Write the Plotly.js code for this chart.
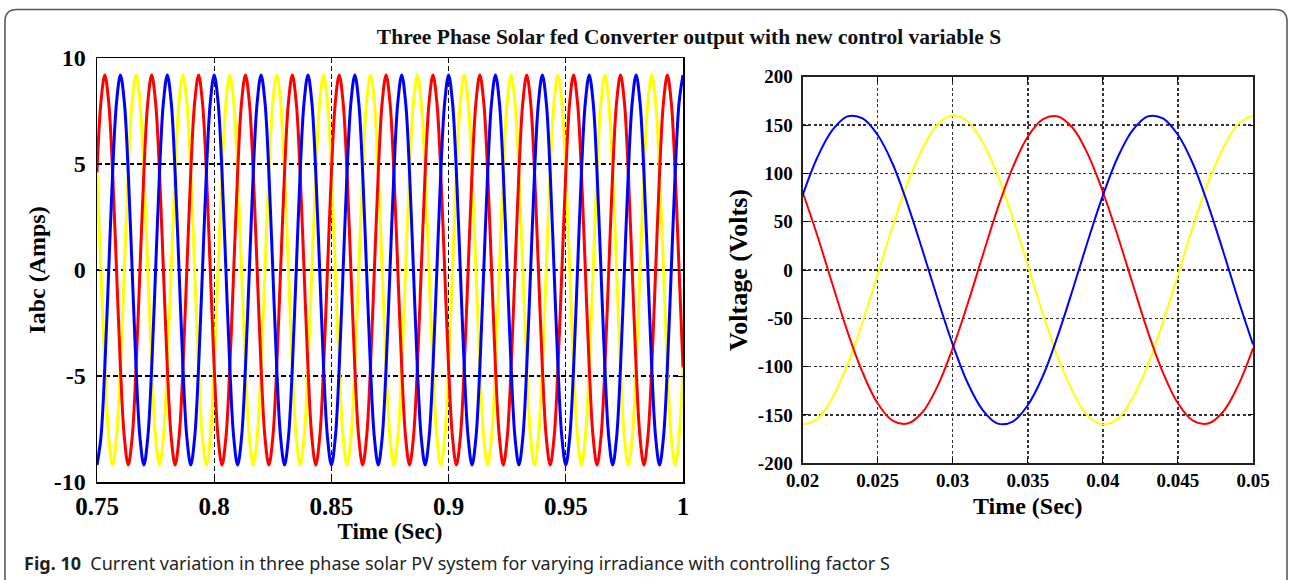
<!DOCTYPE html>
<html>
<head>
<meta charset="utf-8">
<script src="https://cdn.plot.ly/plotly-3.0.1.min.js"></script>
<style>
  html, body { margin: 0; padding: 0; background: #ffffff; }
  #chart { width: 1290px; height: 580px; }
</style>
</head>
<body>
<div id="chart"></div>
<script>
// ---------- Left panel: phase currents (A), sampled every 1/600 s from 0.75 s ----------
const IABC_T0 = 0.75;
const IABC_DT = 0.00166667;
const IA_RED = [
  4.6,7.9,9.2,7.9,4.6,0,-4.6,-7.9,-9.2,-7.9,-4.6,0,
  4.6,7.9,9.2,7.9,4.6,0,-4.6,-7.9,-9.2,-7.9,-4.6,0,
  4.6,7.9,9.2,7.9,4.6,0,-4.6,-7.9,-9.2,-7.9,-4.6,0,
  4.6,7.9,9.2,7.9,4.6,0,-4.6,-7.9,-9.2,-7.9,-4.6,0,
  4.6,7.9,9.2,7.9,4.6,0,-4.6,-7.9,-9.2,-7.9,-4.6,0,
  4.6,7.9,9.2,7.9,4.6,0,-4.6,-7.9,-9.2,-7.9,-4.6,0,
  4.6,7.9,9.2,7.9,4.6,0,-4.6,-7.9,-9.2,-7.9,-4.6,0,
  4.6,7.9,9.2,7.9,4.6,0,-4.6,-7.9,-9.2,-7.9,-4.6,0,
  4.6,7.9,9.2,7.9,4.6,0,-4.6,-7.9,-9.2,-7.9,-4.6,0,
  4.6,7.9,9.2,7.9,4.6,0,-4.6,-7.9,-9.2,-7.9,-4.6,0,
  4.6,7.9,9.2,7.9,4.6,0,-4.6,-7.9,-9.2,-7.9,-4.6,0,
  4.6,7.9,9.2,7.9,4.6,0,-4.6,-7.9,-9.2,-7.9,-4.6,0,
  4.6,7.9,9.2,7.9,4.6,0,-4.6
];
const IB_BLUE = [
  -9.2,-7.9,-4.6,0,4.6,7.9,9.2,7.9,4.6,0,-4.6,-7.9,
  -9.2,-7.9,-4.6,0,4.6,7.9,9.2,7.9,4.6,0,-4.6,-7.9,
  -9.2,-7.9,-4.6,0,4.6,7.9,9.2,7.9,4.6,0,-4.6,-7.9,
  -9.2,-7.9,-4.6,0,4.6,7.9,9.2,7.9,4.6,0,-4.6,-7.9,
  -9.2,-7.9,-4.6,0,4.6,7.9,9.2,7.9,4.6,0,-4.6,-7.9,
  -9.2,-7.9,-4.6,0,4.6,7.9,9.2,7.9,4.6,0,-4.6,-7.9,
  -9.2,-7.9,-4.6,0,4.6,7.9,9.2,7.9,4.6,0,-4.6,-7.9,
  -9.2,-7.9,-4.6,0,4.6,7.9,9.2,7.9,4.6,0,-4.6,-7.9,
  -9.2,-7.9,-4.6,0,4.6,7.9,9.2,7.9,4.6,0,-4.6,-7.9,
  -9.2,-7.9,-4.6,0,4.6,7.9,9.2,7.9,4.6,0,-4.6,-7.9,
  -9.2,-7.9,-4.6,0,4.6,7.9,9.2,7.9,4.6,0,-4.6,-7.9,
  -9.2,-7.9,-4.6,0,4.6,7.9,9.2,7.9,4.6,0,-4.6,-7.9,
  -9.2,-7.9,-4.6,0,4.6,7.9,9.2
];
const IC_YELLOW = [
  4.6,0,-4.6,-7.9,-9.2,-7.9,-4.6,0,4.6,7.9,9.2,7.9,
  4.6,0,-4.6,-7.9,-9.2,-7.9,-4.6,0,4.6,7.9,9.2,7.9,
  4.6,0,-4.6,-7.9,-9.2,-7.9,-4.6,0,4.6,7.9,9.2,7.9,
  4.6,0,-4.6,-7.9,-9.2,-7.9,-4.6,0,4.6,7.9,9.2,7.9,
  4.6,0,-4.6,-7.9,-9.2,-7.9,-4.6,0,4.6,7.9,9.2,7.9,
  4.6,0,-4.6,-7.9,-9.2,-7.9,-4.6,0,4.6,7.9,9.2,7.9,
  4.6,0,-4.6,-7.9,-9.2,-7.9,-4.6,0,4.6,7.9,9.2,7.9,
  4.6,0,-4.6,-7.9,-9.2,-7.9,-4.6,0,4.6,7.9,9.2,7.9,
  4.6,0,-4.6,-7.9,-9.2,-7.9,-4.6,0,4.6,7.9,9.2,7.9,
  4.6,0,-4.6,-7.9,-9.2,-7.9,-4.6,0,4.6,7.9,9.2,7.9,
  4.6,0,-4.6,-7.9,-9.2,-7.9,-4.6,0,4.6,7.9,9.2,7.9,
  4.6,0,-4.6,-7.9,-9.2,-7.9,-4.6,0,4.6,7.9,9.2,7.9,
  4.6,0,-4.6,-7.9,-9.2,-7.9,-4.6
];

// ---------- Right panel: phase voltages (V), sampled every 1 ms from 0.02 s ----------
const V_T0 = 0.02;
const V_DT = 0.001;
const VB_BLUE = [77,117,145,159,157,140,110,68,20,-30,-77,-117,-145,-159,-157,-140,-110,-68,-20,30,77,117,145,159,157,140,110,68,20,-30,-77];
const VA_RED = [81,35,-15,-64,-106,-138,-156,-159,-147,-120,-81,-35,15,64,106,138,156,159,147,120,81,35,-15,-64,-106,-138,-156,-159,-147,-120,-81];
const VC_YELLOW = [-160,-154,-132,-98,-54,-5,45,90,126,151,160,154,132,98,54,5,-45,-90,-126,-151,-160,-154,-132,-98,-54,-5,45,90,126,151,160];

// ---------- Ticks ----------
const LEFT_X_TICKVALS = [0.75, 0.8, 0.85, 0.9, 0.95, 1];
const LEFT_X_TICKTEXT = ['0.75', '0.8', '0.85', '0.9', '0.95', '1'];
const LEFT_Y_TICKVALS = [-10, -5, 0, 5, 10];
const LEFT_Y_TICKTEXT = ['-10', '-5', '0', '5', '10'];
const RIGHT_X_TICKVALS = [0.02, 0.025, 0.03, 0.035, 0.04, 0.045, 0.05];
const RIGHT_X_TICKTEXT = ['0.02', '0.025', '0.03', '0.035', '0.04', '0.045', '0.05'];
const RIGHT_Y_TICKVALS = [-200, -150, -100, -50, 0, 50, 100, 150, 200];
const RIGHT_Y_TICKTEXT = ['-200', '-150', '-100', '-50', '0', '50', '100', '150', '200'];

// ---------- Text ----------
const MAIN_TITLE = 'Three Phase Solar fed Converter output with new control variable S';
const LEFT_X_TITLE = 'Time (Sec)';
const LEFT_Y_TITLE = 'Iabc (Amps)';
const RIGHT_X_TITLE = 'Time (Sec)';
const RIGHT_Y_TITLE = 'Voltage (Volts)';
const CAPTION_LABEL = 'Fig. 10';
const CAPTION_TEXT = 'Current variation in three phase solar PV system for varying irradiance with controlling factor S';

const SERIF = '"Liberation Serif", "Times New Roman", Times, serif';
const SANS = '"Noto Sans", "Open Sans", Arial, sans-serif';
const W = 1290, H = 580;
const px = v => v / W;
const py = v => 1 - v / H;

function wave(x0, dx, y, color, width, xa, ya) {
  return {
    type: 'scatter', mode: 'lines', x0: x0, dx: dx, y: y,
    xaxis: xa, yaxis: ya, showlegend: false, hoverinfo: 'skip',
    line: { color: color, width: width, shape: 'spline', smoothing: 1 }
  };
}

const traces = [
  wave(IABC_T0, IABC_DT, IC_YELLOW, '#ffff00', 3, 'x', 'y'),
  wave(IABC_T0, IABC_DT, IA_RED, '#ff0000', 3, 'x', 'y'),
  wave(IABC_T0, IABC_DT, IB_BLUE, '#0000ff', 3, 'x', 'y'),
  wave(V_T0, V_DT, VC_YELLOW, '#ffff00', 2, 'x2', 'y2'),
  wave(V_T0, V_DT, VA_RED, '#ff0000', 2, 'x2', 'y2'),
  wave(V_T0, V_DT, VB_BLUE, '#0000ff', 2, 'x2', 'y2')
];

const tickFontL = { family: SERIF, size: 24, color: '#000', weight: 700 };
const tickFontR = { family: SERIF, size: 19, color: '#000', weight: 700 };

const frame = {
  showline: true, mirror: 'ticks', linecolor: '#000', linewidth: 1.5,
  ticks: 'inside', ticklen: 5, tickcolor: '#000', tickwidth: 1,
  tickmode: 'array',
  zeroline: false, automargin: false, fixedrange: true
};

// Rounded border of the figure panel
const fx0 = px(5), fx1 = px(1287), fyt = py(9.5), fyb = -0.05;
const rx = px(12), ry = 12 / H;
const borderPath = `M ${fx0},${fyb} L ${fx0},${fyt - ry} Q ${fx0},${fyt} ${fx0 + rx},${fyt} ` +
  `L ${fx1 - rx},${fyt} Q ${fx1},${fyt} ${fx1},${fyt - ry} L ${fx1},${fyb}`;

const layout = {
  width: W, height: H,
  margin: { l: 0, r: 0, t: 0, b: 0, pad: 0 },
  paper_bgcolor: '#ffffff', plot_bgcolor: '#ffffff',
  showlegend: false,
  title: {
    text: '<b>' + MAIN_TITLE + '</b>',
    font: { family: SERIF, size: 21.5, color: '#111' },
    x: px(689), xref: 'paper', xanchor: 'center',
    y: py(36), yref: 'paper', yanchor: 'middle'
  },
  xaxis: Object.assign({}, frame, {
    domain: [px(97), px(683)], anchor: 'y',
    range: [0.75, 1], tickvals: LEFT_X_TICKVALS, ticktext: LEFT_X_TICKTEXT,
    showgrid: true, gridcolor: '#000', gridwidth: 1.2, griddash: '5px,3px',
    tickfont: { family: SERIF, size: 25, color: '#000', weight: 700 }, ticklabelstandoff: 1,
    title: { text: LEFT_X_TITLE, font: { family: SERIF, size: 23, color: '#000', weight: 700 }, standoff: 4 }
  }),
  yaxis: Object.assign({}, frame, {
    domain: [py(482), py(58)], anchor: 'x',
    range: [-10, 10], tickvals: LEFT_Y_TICKVALS, ticktext: LEFT_Y_TICKTEXT,
    showgrid: true, gridcolor: '#000', gridwidth: 1.2, griddash: '5px,3px',
    tickfont: tickFontL, ticklabelstandoff: 5,
    title: { text: LEFT_Y_TITLE, font: { family: SERIF, size: 24, color: '#000', weight: 700 }, standoff: 1 }
  }),
  xaxis2: Object.assign({}, frame, {
    domain: [px(802.5), px(1253)], anchor: 'y2',
    range: [0.02, 0.05], tickvals: RIGHT_X_TICKVALS, ticktext: RIGHT_X_TICKTEXT,
    linecolor: '#222', linewidth: 2,
    showgrid: true, gridcolor: '#333', gridwidth: 1.5, griddash: '3px,2.5px',
    tickfont: tickFontR, ticklabelstandoff: -1,
    title: { text: RIGHT_X_TITLE, font: { family: SERIF, size: 24, color: '#000', weight: 700 }, standoff: 7 }
  }),
  yaxis2: Object.assign({}, frame, {
    domain: [py(463.2), py(76.8)], anchor: 'x2',
    range: [-200, 200], tickvals: RIGHT_Y_TICKVALS, ticktext: RIGHT_Y_TICKTEXT,
    linecolor: '#222', linewidth: 2,
    showgrid: true, gridcolor: '#333', gridwidth: 1.5, griddash: '3px,2.5px',
    tickfont: tickFontR, ticklabelstandoff: 4,
    title: { text: RIGHT_Y_TITLE, font: { family: SERIF, size: 26, color: '#000', weight: 700 }, standoff: 3 }
  }),
  shapes: [
    { type: 'path', xref: 'paper', yref: 'paper', path: borderPath,
      line: { color: '#5a5a5a', width: 1.6 }, fillcolor: 'rgba(0,0,0,0)', layer: 'above' }
  ],
  annotations: [
    {
      xref: 'paper', yref: 'paper', x: px(22), y: py(563),
      xanchor: 'left', yanchor: 'middle', showarrow: false,
      text: '<b>' + CAPTION_LABEL + '</b>\u00a0\u00a0' + CAPTION_TEXT,
      font: { family: SANS, size: 18, color: '#231f20' }
    }
  ]
};

Plotly.newPlot('chart', traces, layout, { staticPlot: true, displayModeBar: false });
</script>
</body>
</html>
